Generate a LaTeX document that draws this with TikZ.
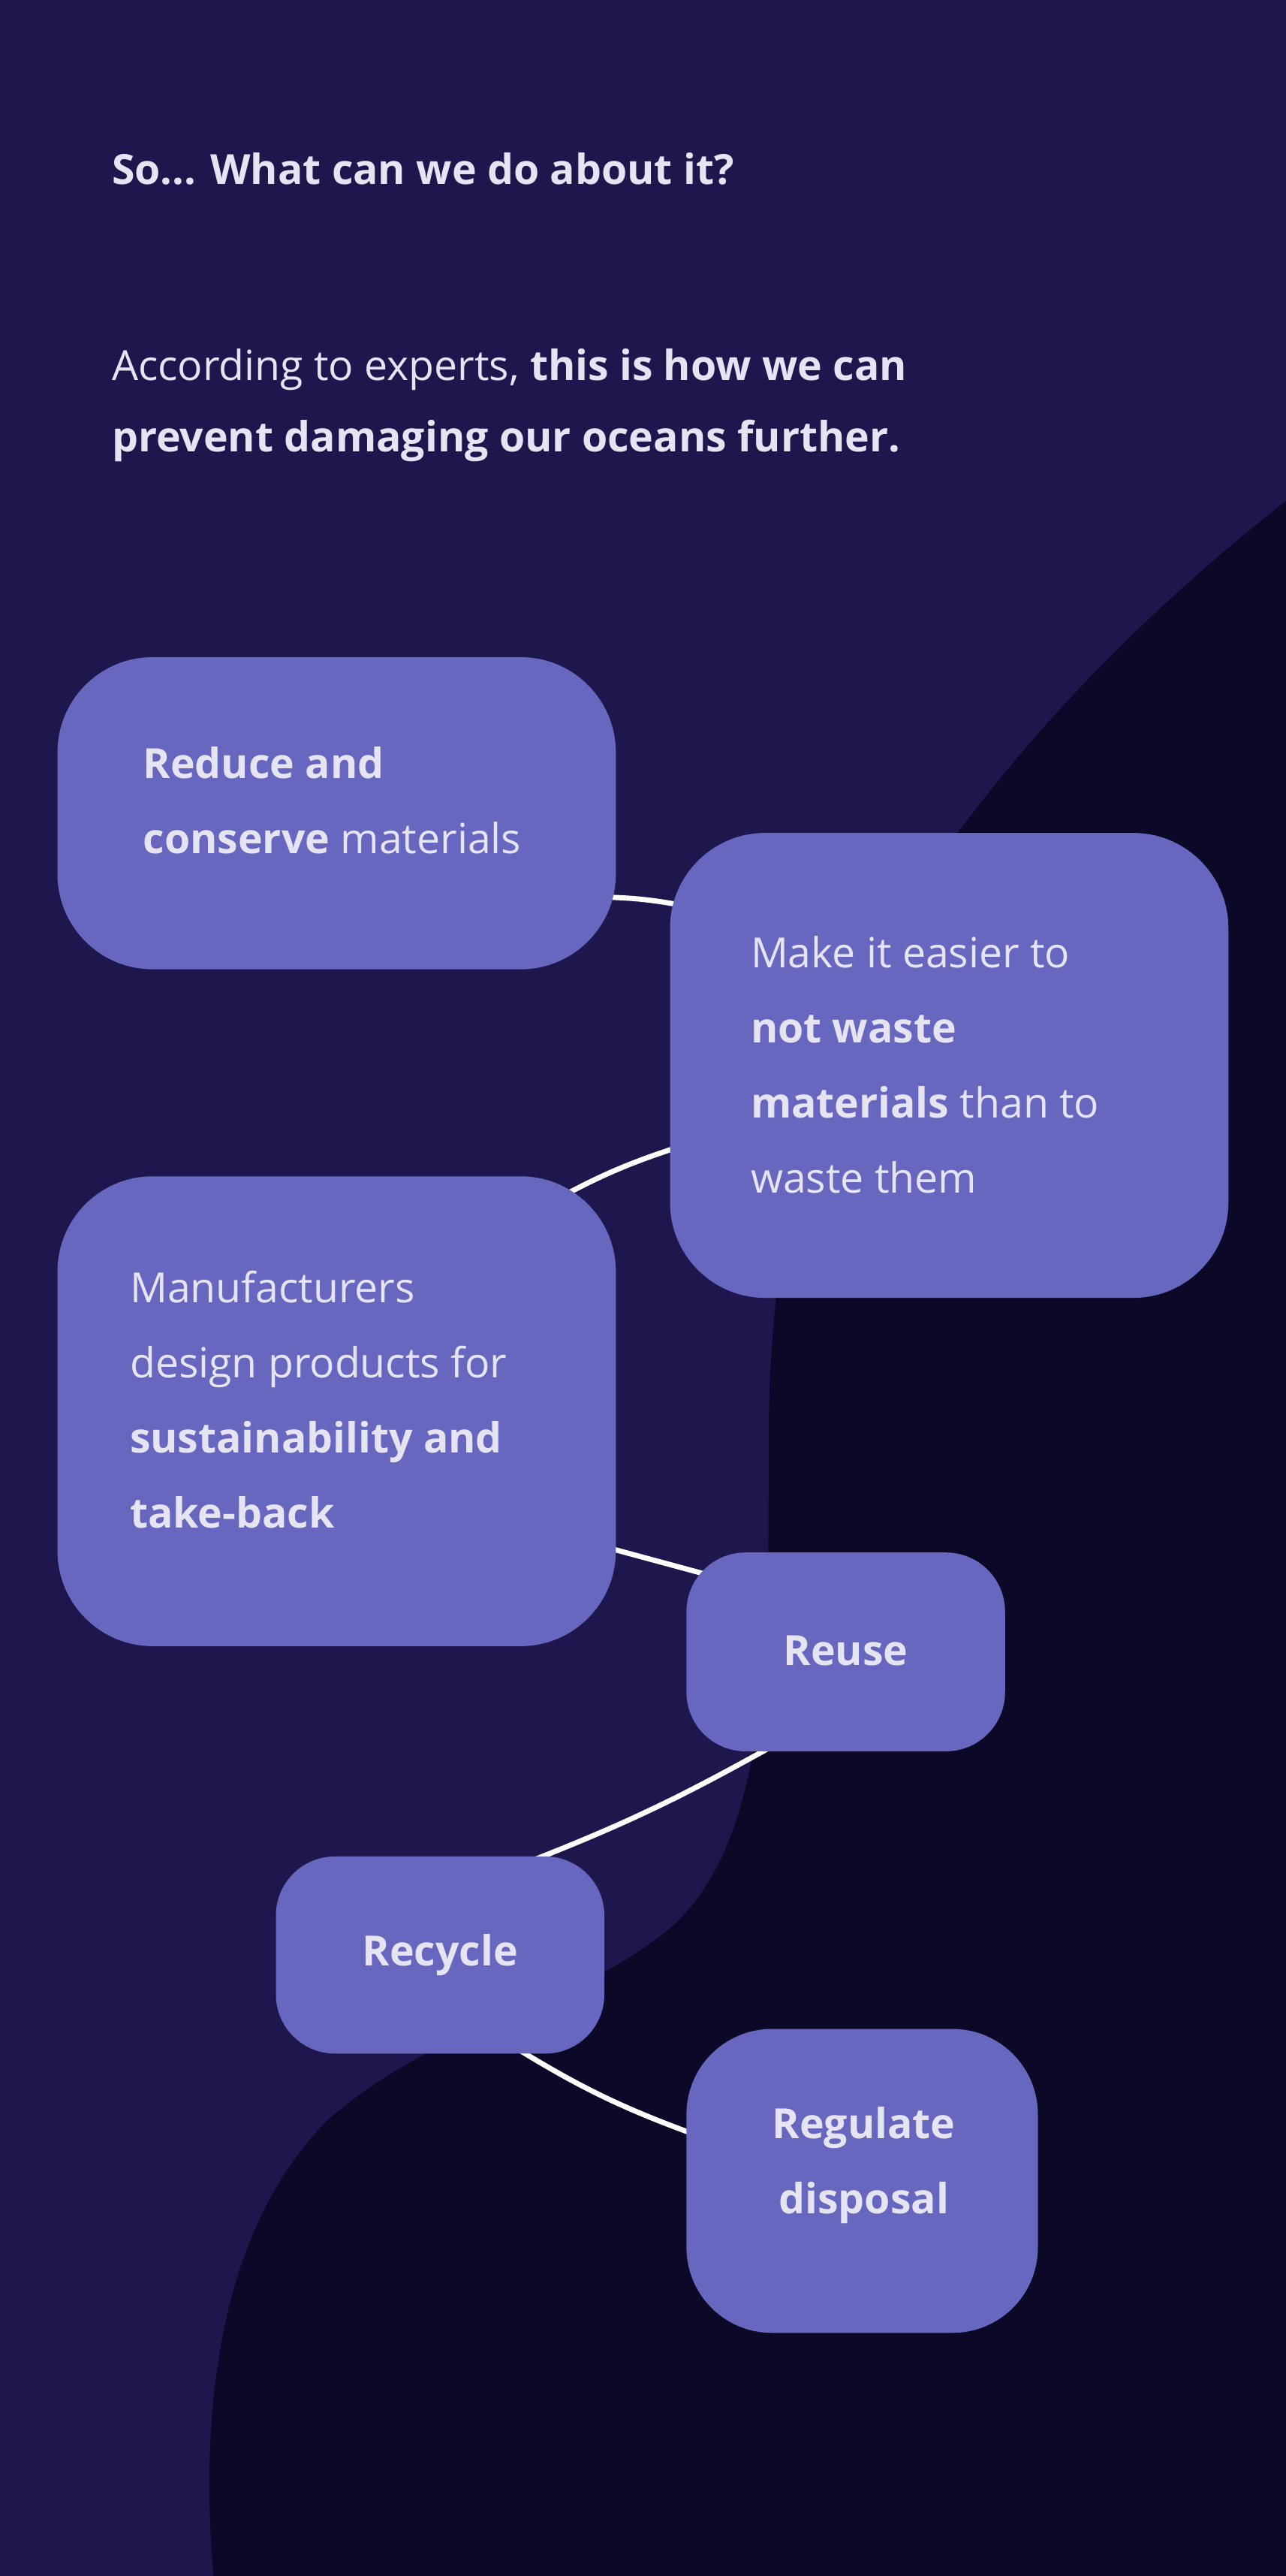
\documentclass[tikz,border=0pt]{standalone}
\usepackage{fontspec}
\setmainfont{Open Sans}
\pgfdeclarelayer{bgl}
\pgfdeclarelayer{edges}
\pgfsetlayers{bgl,edges,main}
\definecolor{bgc}{HTML}{1D174D}
\definecolor{darkc}{HTML}{0B0927}
\definecolor{boxc}{HTML}{6767BF}
\definecolor{txtc}{HTML}{E6E4F2}
\tikzset{
 box/.style={fill=boxc,rounded corners=2.9cm,inner sep=0pt},
 txt/.style={text=txtc,font=\fontsize{36}{65}\selectfont,align=left,inner sep=0pt,anchor=west},
 ctxt/.style={text=txtc,font=\fontsize{36}{65}\selectfont\bfseries,align=center,inner sep=0pt},
 conn/.style={draw=white,line width=4.5pt}
}
\begin{document}
\begin{tikzpicture}[x=0.05cm,y=-0.05cm]
\useasboundingbox (0,0) rectangle (783,1568);
\begin{pgfonlayer}{bgl}
\fill[bgc] (0,0) rectangle (783,1568);
\fill[darkc] (783,305) .. controls (700,370) and (620,450) .. (560,540)
  .. controls (490,640) and (468,760) .. (468,880)
  .. controls (468,1000) and (470,1130) .. (400,1180)
  .. controls (340,1225) and (270,1230) .. (200,1290)
  .. controls (140,1350) and (120,1450) .. (130,1568) -- (783,1568) -- cycle;
\end{pgfonlayer}
\node[text=txtc,font=\fontsize{36}{65}\selectfont\bfseries,anchor=base west,inner sep=0pt] (title) at (68,112) {So... What can we do about it?};
\node[text=txtc,font=\fontsize{36}{62}\selectfont,align=left,anchor=north west,inner sep=0pt] (intro) at (68,212) {According to experts, \textbf{this is how we can}\\\textbf{prevent damaging our oceans further.}};
% boxes
\path[box] (35,400) rectangle (375,590); \node (reduce) at (205,495) {};
\path[box] (408,507) rectangle (748,790); \node (make) at (578,648) {};
\path[box] (35,716) rectangle (375,1002); \node (manuf) at (205,859) {};
\path[box,rounded corners=1.8cm] (418,945) rectangle (612,1066); \node (reuse) at (515,1005) {};
\path[box,rounded corners=1.8cm] (168,1130) rectangle (368,1250); \node (recycle) at (268,1190) {};
\path[box,rounded corners=2.6cm] (418,1235) rectangle (632,1420); \node (regulate) at (525,1327) {};
% texts
\node[txt] (t1) at (87,487) {\textbf{Reduce and}\\\textbf{conserve} materials};
\node[txt] (t2) at (457,648) {Make it easier to\\\textbf{not waste}\\\textbf{materials} than to\\waste them};
\node[txt] (t3) at (79,852) {Manufacturers\\design products for\\\textbf{sustainability and}\\\textbf{take-back}};
\node[ctxt] (t4) at (reuse) {Reuse};
\node[ctxt] (t5) at (recycle) {Recycle};
\node[ctxt] (t6) at (526,1318) {Regulate\\disposal};
% connectors
\coordinate (a1) at (355,546); \coordinate (a2) at (425,553);
\coordinate (b1) at (420,696); \coordinate (b2) at (330,735);
\coordinate (c1) at (355,938); \coordinate (c2) at (440,961);
\coordinate (d1) at (470,1063); \coordinate (d2) at (315,1136);
\coordinate (f1) at (310,1244); \coordinate (f2) at (428,1301);
\begin{pgfonlayer}{edges}
\draw[conn] (a1) to[bend left=6] (a2);
\draw[conn] (b1) to[bend right=6] (b2);
\draw[conn] (c1) -- (c2);
\draw[conn] (d1) to[bend left=4] (d2);
\draw[conn] (f1) to[bend right=6] (f2);
\end{pgfonlayer}
\end{tikzpicture}
\end{document}
